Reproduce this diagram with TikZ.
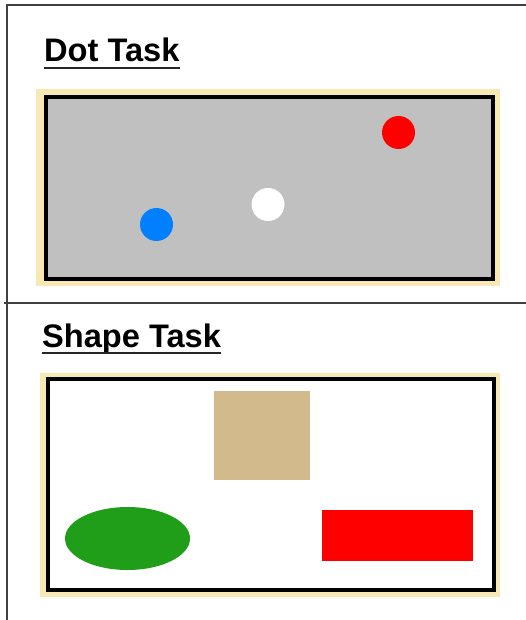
\documentclass[tikz,border=0pt]{standalone}
\usepackage{fontspec}
\setmainfont{Liberation Sans}
\usetikzlibrary{calc}

\definecolor{rulegray}{RGB}{64,64,64}
\definecolor{boardgray}{RGB}{192,192,192}
\definecolor{boardedge}{RGB}{247,232,180}
\definecolor{shapetan}{RGB}{210,186,140}
\definecolor{shapegreen}{RGB}{32,158,26}
\definecolor{dotblue}{RGB}{0,128,255}

\tikzset{
  tasktitle/.style={anchor=base west, inner sep=0pt, font=\fontsize{32.6}{36}\selectfont\bfseries},
  titleline/.style={line width=2pt, black!85},
  boardframe/.style={line width=4pt, black},
  dotmark/.style={circle, inner sep=0pt, minimum size=33pt},
}

\begin{document}
\begin{tikzpicture}[x=1pt,y=-1pt]
	\useasboundingbox (0,0) rectangle (526,620);
	% outer rules
	\draw[rulegray, line width=1.5pt] (526,5) -- (7,5) -- (7,620);
	\draw[rulegray, line width=1.5pt] (4,303) -- (526,303);

	% dot task
	\node[tasktitle] (dottitle) at (44,62) {Dot Task};
	\draw[titleline] ($(dottitle.base west)+(0,6)$) -- ($(dottitle.base east)+(0,6)$);
	\fill[boardedge] (36,89) rectangle (500,286);
	\draw[boardframe, fill=boardgray] (46,97) rectangle (493,279);
	\node[dotmark, fill=red] (reddot) at (398.5,132.5) {};
	\node[dotmark, fill=white] (whitedot) at (268,204.5) {};
	\node[dotmark, fill=dotblue] (bluedot) at (156.5,224.5) {};

	% shape task
	\node[tasktitle] (shapetitle) at (42,347) {Shape Task};
	\draw[titleline] ($(shapetitle.base west)+(0,6)$) -- ($(shapetitle.base east)+(0,6)$);
	\fill[boardedge] (40,373) rectangle (500,597);
	\draw[boardframe, fill=white] (48,379) rectangle (494,590);
	\fill[shapetan] (214,391) rectangle (310,480);
	\fill[shapegreen] (127.5,538.5) ellipse [x radius=62.5, y radius=31.5];
	\fill[red] (322,510) rectangle (473,561);
\end{tikzpicture}
\end{document}
